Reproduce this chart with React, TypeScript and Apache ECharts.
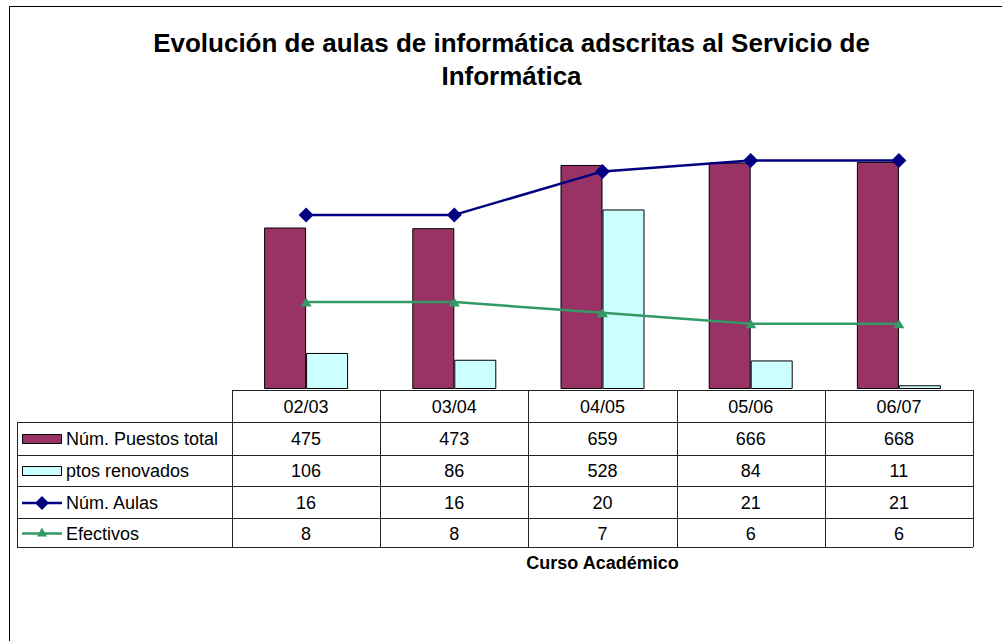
import React, { useEffect, useRef } from "react";
import * as echarts from "echarts";

const titleLines = ["Evolución de aulas de informática adscritas al Servicio de", "Informática"];
const xAxisTitle = "Curso Académico";
const categories = ["02/03", "03/04", "04/05", "05/06", "06/07"];
const seriesNames = ["Núm. Puestos total", "ptos renovados", "Núm. Aulas", "Efectivos"];
const puestosTotal = [475, 473, 659, 666, 668];
const ptosRenovados = [106, 86, 528, 84, 11];
const numAulas = [16, 16, 20, 21, 21];
const efectivos = [8, 8, 7, 6, 6];

const FONT = "'Liberation Sans', Arial, sans-serif";
const COLORS = ["#993366", "#CCFFFF", "#000080", "#339966"];

const W = 1002;
const H = 641;
const GRID_L = 232;
const GRID_R = 973;
const GRID_T = 117;
const GRID_B = 389;
const TABLE_LEFT = 17;
const ROWS = [390, 422, 454.5, 486, 518, 547];

function buildGraphics(): any[] {
  const g: any[] = [];
  const tableData = [puestosTotal, ptosRenovados, numAulas, efectivos];
  const colW = (GRID_R - GRID_L) / categories.length;
  const lineStyle = { stroke: "#222", lineWidth: 1 };
  // outer border
  g.push({ type: "rect", shape: { x: 9.5, y: 6.5, width: 1200, height: 800 }, style: { fill: "none", stroke: "#000", lineWidth: 1 }, silent: true });
  // title
  titleLines.forEach((t, i) => {
    g.push({
      type: "text",
      x: 511.5,
      y: 42.5 + i * 33,
      style: { text: t, fill: "#000", font: `bold 26px ${FONT}`, align: "center", verticalAlign: "middle" },
    });
  });
  // horizontal lines
  ROWS.forEach((y, i) => {
    const x1 = i === 0 ? GRID_L : TABLE_LEFT;
    g.push({ type: "line", shape: { x1, y1: Math.round(y) + 0.5, x2: GRID_R, y2: Math.round(y) + 0.5 }, style: lineStyle });
  });
  // vertical lines
  for (let k = 0; k <= categories.length; k++) {
    const x = Math.round(GRID_L + k * colW) + 0.5;
    g.push({ type: "line", shape: { x1: x, y1: ROWS[0], x2: x, y2: ROWS[ROWS.length - 1] }, style: lineStyle });
  }
  g.push({ type: "line", shape: { x1: TABLE_LEFT + 0.5, y1: ROWS[1], x2: TABLE_LEFT + 0.5, y2: ROWS[ROWS.length - 1] }, style: lineStyle });
  // header
  categories.forEach((c, k) => {
    g.push({
      type: "text",
      x: GRID_L + (k + 0.5) * colW,
      y: (ROWS[0] + ROWS[1]) / 2 + 1,
      style: { text: c, fill: "#000", font: `18px ${FONT}`, align: "center", verticalAlign: "middle" },
    });
  });
  // rows
  seriesNames.forEach((name, r) => {
    const cy = (ROWS[r + 1] + ROWS[r + 2]) / 2 + 1;
    if (r < 2) {
      g.push({ type: "rect", shape: { x: 22.5, y: Math.round(cy - 5) + 0.5, width: 39, height: 9 }, style: { fill: COLORS[r], stroke: "#000", lineWidth: 1 } });
    } else {
      g.push({ type: "line", shape: { x1: 22, y1: cy, x2: 62, y2: cy }, style: { stroke: COLORS[r], lineWidth: 2.5 } });
      if (r === 2) {
        g.push({ type: "polygon", shape: { points: [[42, cy - 7], [49, cy], [42, cy + 7], [35, cy]] }, style: { fill: COLORS[r] } });
      } else {
        g.push({ type: "polygon", shape: { points: [[42, cy - 6], [47, cy + 3], [37, cy + 3]] }, style: { fill: COLORS[r] } });
      }
    }
    g.push({
      type: "text",
      x: 66,
      y: cy,
      style: { text: name, fill: "#000", font: `18px ${FONT}`, align: "left", verticalAlign: "middle" },
    });
    tableData[r].forEach((v, k) => {
      g.push({
        type: "text",
        x: GRID_L + (k + 0.5) * colW,
        y: cy,
        style: { text: String(v), fill: "#000", font: `18px ${FONT}`, align: "center", verticalAlign: "middle" },
      });
    });
  });
  // axis title
  g.push({
    type: "text",
    x: (GRID_L + GRID_R) / 2,
    y: 563,
    style: { text: xAxisTitle, fill: "#000", font: `bold 18px ${FONT}`, align: "center", verticalAlign: "middle" },
  });
  return g;
}

export default function App() {
  const ref = useRef<HTMLDivElement>(null);
  useEffect(() => {
    if (!ref.current) return;
    const chart = echarts.init(ref.current, null, { renderer: "svg" });
    chart.setOption({
      animation: false,
      backgroundColor: "#fff",
      textStyle: { fontFamily: FONT },
      grid: { left: GRID_L, right: W - GRID_R, top: GRID_T, bottom: H - GRID_B, containLabel: false },
      xAxis: {
        type: "category",
        data: categories,
        axisLine: { show: false },
        axisTick: { show: false },
        axisLabel: { show: false },
        splitLine: { show: false },
      },
      yAxis: [
        { type: "value", min: 0, max: 800, show: false, splitLine: { show: false } },
        { type: "value", min: 0, max: 25, show: false, splitLine: { show: false } },
      ],
      series: [
        {
          name: seriesNames[0],
          type: "bar",
          data: puestosTotal,
          barWidth: 42,
          barGap: "0%",
          itemStyle: { color: COLORS[0], borderColor: "#000", borderWidth: 1 },
        },
        {
          name: seriesNames[1],
          type: "bar",
          data: ptosRenovados,
          barWidth: 42,
          barGap: "0%",
          itemStyle: { color: COLORS[1], borderColor: "#000", borderWidth: 1 },
        },
        {
          name: seriesNames[2],
          type: "line",
          yAxisIndex: 1,
          data: numAulas,
          symbol: "diamond",
          symbolSize: [15, 15],
          lineStyle: { color: COLORS[2], width: 2.5 },
          itemStyle: { color: COLORS[2] },
          z: 5,
        },
        {
          name: seriesNames[3],
          type: "line",
          yAxisIndex: 1,
          data: efectivos,
          symbol: "triangle",
          symbolSize: [11, 9],
          lineStyle: { color: COLORS[3], width: 2.5 },
          itemStyle: { color: COLORS[3] },
          z: 5,
        },
      ],
      graphic: buildGraphics(),
    });
    return () => chart.dispose();
  }, []);
  return <div ref={ref} style={{ position: "fixed", left: 0, top: 0, width: W, height: H }} />;
}
